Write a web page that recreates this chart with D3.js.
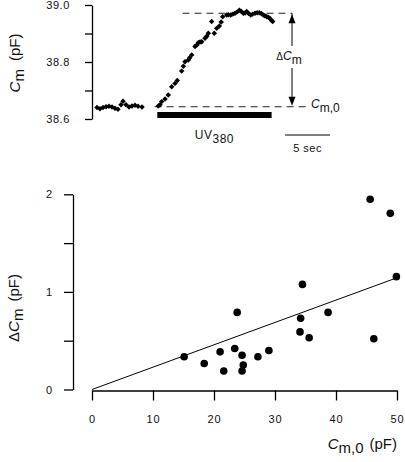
<!DOCTYPE html>
<html><head><meta charset="utf-8">
<script src="https://cdn.jsdelivr.net/npm/d3@7"></script>
<style>
body{margin:0;background:#fff;}
svg{display:block;font-family:"Liberation Sans",Arial,sans-serif;}
.tick text{font-family:"Liberation Sans",Arial,sans-serif;}
</style></head><body>
<svg id="c" width="405" height="462"></svg>
<script>
// ---- Top panel: capacitance trace (time in s, Cm in pF)
const traceTime = [0,0.33,0.67,1.0,1.33,1.67,2.0,2.33,2.67,2.89,3.22,3.56,3.89,4.22,4.56,5.0,
  6.81,7.0,7.19,7.56,7.92,8.3,8.67,8.92,9.41,9.6,9.78,10.14,10.3,10.52,10.89,11.1,11.26,11.45,11.63,12.0,12.2,12.37,12.74,13.03,13.3,13.59,13.8,13.97,14.41,14.6,14.86,15.1,15.33,15.55,15.81,16.0,16.26,16.45,16.63,16.85,17.08,17.3,17.56,17.8,18.03,18.25,18.48,18.65,18.86,19.05,19.22,19.4,19.52];
const traceCm = [38.640,38.636,38.640,38.643,38.645,38.642,38.638,38.634,38.650,38.662,38.650,38.642,38.646,38.648,38.645,38.642,
  38.646,38.650,38.661,38.670,38.684,38.713,38.725,38.735,38.768,38.785,38.801,38.807,38.815,38.825,38.854,38.860,38.868,38.870,38.871,38.883,38.890,38.901,38.942,38.901,38.918,38.926,38.940,38.959,38.965,38.966,38.965,38.968,38.971,38.975,38.982,38.978,38.971,38.972,38.977,38.970,38.965,38.968,38.971,38.973,38.973,38.970,38.965,38.962,38.959,38.957,38.953,38.946,38.942];
const topTicks = [38.6,38.7,38.8,38.9,39.0];
const topTickLabels = ["38.6","","38.8","","39.0"];
const cm0 = 38.643, cmPeak = 38.971;
const uvStart = 6.7, uvEnd = 19.4;
const scaleBar = [20.9, 25.9];

// ---- Bottom panel: dCm vs Cm,0
const cm0Values = [45.6,48.9,49.9,34.5,23.8,38.7,34.2,34.1,35.6,46.2,15.1,18.4,21.0,21.6,23.4,24.6,24.8,24.6,27.2,29.0];
const dCmValues = [1.95,1.805,1.156,1.077,0.79,0.79,0.73,0.59,0.53,0.52,0.335,0.267,0.386,0.19,0.42,0.35,0.25,0.19,0.335,0.40];
const xTicks = [0,10,20,30,40,50];
const yTicks = [0,0.5,1,1.5,2];
const yTickLabels = ["0","","1","","2"];
const fitSlope = 0.0229;

const svg = d3.select("#c");
const F = '"Liberation Sans",Arial,sans-serif';

// ===== TOP =====
const xT = d3.scaleLinear().domain([0,26]).range([97,331]);
const yT = d3.scaleLinear().domain([38.6,39.0]).range([119,5]);
const gTy = svg.append("g").attr("transform","translate(92,0)")
  .call(d3.axisLeft(yT).tickValues(topTicks).tickFormat((d,i)=>topTickLabels[i]).tickSize(7).tickSizeOuter(0).tickPadding(15));
gTy.selectAll("path,line").attr("stroke","#000").attr("stroke-width",1.3);
gTy.selectAll("text").attr("font-size",11).attr("fill","#111").attr("letter-spacing",0.6);

// dashed reference lines
svg.append("line").attr("x1",xT(6.4)).attr("x2",xT(23.3)).attr("y1",yT(cm0)).attr("y2",yT(cm0))
  .attr("stroke","#222").attr("stroke-width",1).attr("stroke-dasharray","7,5");
svg.append("line").attr("x1",xT(9.5)).attr("x2",xT(21.67)).attr("y1",yT(cmPeak)).attr("y2",yT(cmPeak))
  .attr("stroke","#222").attr("stroke-width",1).attr("stroke-dasharray","7,5");
// arrow
const ax = xT(21.67);
const yTop = yT(cmPeak), yBot = yT(cm0);
svg.append("line").attr("x1",ax).attr("x2",ax).attr("y1",yTop).attr("y2",yTop+4).attr("stroke","#000");
svg.append("line").attr("x1",ax).attr("x2",ax).attr("y1",yTop+6).attr("y2",46).attr("stroke","#000");
svg.append("line").attr("x1",ax).attr("x2",ax).attr("y1",68).attr("y2",yBot-6).attr("stroke","#000");
svg.append("path").attr("d",`M${ax},${yTop+1}L${ax-3.5},${yTop+10}L${ax+3.5},${yTop+10}Z`).attr("fill","#000");
svg.append("path").attr("d",`M${ax},${yBot-1}L${ax-3.5},${yBot-10}L${ax+3.5},${yBot-10}Z`).attr("fill","#000");
const dl = svg.append("text").attr("x",ax-3).attr("y",60).attr("text-anchor","middle").attr("font-family",F).attr("font-size",12).attr("fill","#111");
dl.append("tspan").text("Δ").attr("font-size",10);
dl.append("tspan").text("C").attr("font-style","italic");
dl.append("tspan").text("m").attr("dy",4);
const cl = svg.append("text").attr("x",311).attr("y",108).attr("font-family",F).attr("font-size",12).attr("fill","#111");
cl.append("tspan").text("C").attr("font-style","italic");
cl.append("tspan").text("m,0").attr("dy",4);

// trace
const sym = d3.symbol().type(d3.symbolSquare).size(15);
svg.append("g").selectAll("path").data(traceTime).join("path")
  .attr("d",sym()).attr("fill","#000")
  .attr("transform",(d,i)=>`translate(${xT(d)},${yT(traceCm[i])}) rotate(45)`);

// UV bar
svg.append("rect").attr("x",xT(uvStart)).attr("width",xT(uvEnd)-xT(uvStart)).attr("y",112).attr("height",6).attr("fill","#000");
const uv = svg.append("text").attr("x",(xT(uvStart)+xT(uvEnd))/2).attr("y",139).attr("text-anchor","middle").attr("font-family",F).attr("font-size",12).attr("fill","#111").attr("letter-spacing",0.5);
uv.append("tspan").text("UV");
uv.append("tspan").text("380").attr("dy",4);
// scale bar
svg.append("line").attr("x1",xT(scaleBar[0])).attr("x2",xT(scaleBar[1])).attr("y1",135).attr("y2",135).attr("stroke","#000").attr("stroke-width",1);
svg.append("text").attr("x",(xT(scaleBar[0])+xT(scaleBar[1]))/2).attr("y",152).attr("text-anchor","middle").attr("font-family",F).attr("font-size",11).attr("fill","#111").attr("letter-spacing",0.5).text("5 sec");

// top y label
const tyl = svg.append("text").attr("transform","translate(20,63) rotate(-90)").attr("text-anchor","middle").attr("font-family",F).attr("font-size",15).attr("fill","#111");
tyl.append("tspan").text("C").attr("font-style","italic");
tyl.append("tspan").text("m").attr("dy",4);
tyl.append("tspan").text("(pF)").attr("dy",-4).attr("dx",8);

// ===== BOTTOM =====
const xB = d3.scaleLinear().domain([0,50]).range([92,397]);
const yB = d3.scaleLinear().domain([0,2]).range([389.5,194.3]);
const gBy = svg.append("g").attr("transform","translate(73,0)")
  .call(d3.axisLeft(yB).tickValues(yTicks).tickFormat((d,i)=>yTickLabels[i]).tickSize(9).tickSizeOuter(0).tickPadding(11));
const gBx = svg.append("g").attr("transform","translate(0,390.5)")
  .call(d3.axisBottom(xB).tickValues(xTicks).tickSize(10).tickSizeOuter(0).tickPadding(15));
[gBy,gBx].forEach(g=>{
  g.selectAll("path,line").attr("stroke","#000").attr("stroke-width",1.3);
  g.selectAll("text").attr("font-size",11).attr("fill","#111").attr("letter-spacing",1);
});

// fit line
svg.append("line").attr("x1",xB(0)).attr("y1",yB(0)).attr("x2",xB(50)).attr("y2",yB(50*fitSlope))
  .attr("stroke","#000").attr("stroke-width",1);
// points
svg.append("g").selectAll("circle").data(cm0Values).join("circle")
  .attr("cx",d=>xB(d)).attr("cy",(d,i)=>yB(dCmValues[i])).attr("r",3.8).attr("fill","#000");

// bottom y label
const byl = svg.append("text").attr("transform","translate(19,308) rotate(-90)").attr("text-anchor","middle").attr("font-family",F).attr("font-size",15).attr("fill","#111");
byl.append("tspan").text("Δ");
byl.append("tspan").text("C").attr("font-style","italic");
byl.append("tspan").text("m").attr("dy",4);
byl.append("tspan").text("(pF)").attr("dy",-4).attr("dx",7);
// bottom x label
const bxl = svg.append("text").attr("x",397).attr("y",449).attr("text-anchor","end").attr("font-family",F).attr("font-size",15).attr("fill","#111");
bxl.append("tspan").text("C").attr("font-style","italic");
bxl.append("tspan").text("m,0").attr("dy",4);
bxl.append("tspan").text("(pF)").attr("dy",-4).attr("dx",6);
</script></body></html>
